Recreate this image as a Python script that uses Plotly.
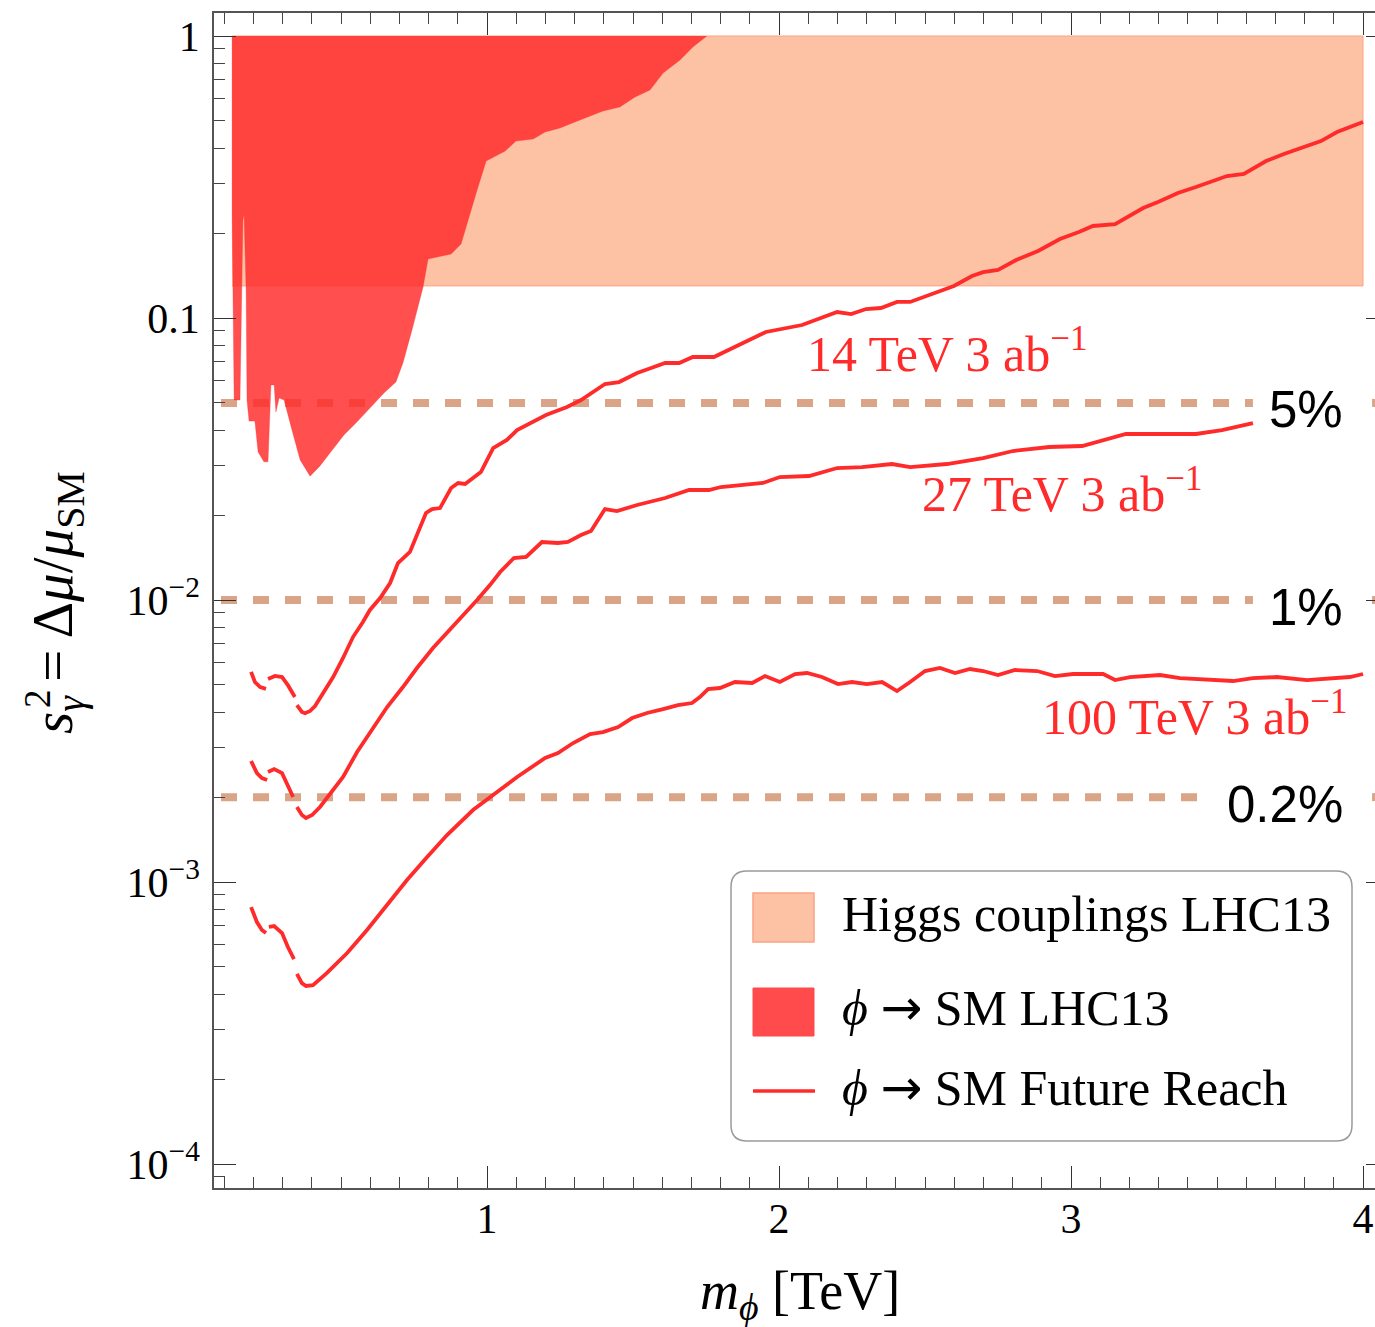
import math
import plotly.graph_objects as go

# ---------------- data ----------------
# Higgs couplings LHC13 excluded band
higgs_x = [0.127, 4.0, 4.0, 0.127]
higgs_y = [0.13, 0.13, 1.0, 1.0]

# phi -> SM LHC13 exclusion region (boundary, closed along s^2 = 1)
lhc13_x = [0.127, 0.127, 0.134, 0.154, 0.164, 0.168, 0.175, 0.178, 0.185, 0.205,
           0.216, 0.236, 0.25, 0.26, 0.271, 0.277, 0.288, 0.305, 0.332, 0.36,
           0.394, 0.428, 0.462, 0.479, 0.51, 0.551, 0.599, 0.647, 0.688, 0.712,
           0.743, 0.781, 0.798, 0.877, 0.911, 0.925, 0.949, 0.966, 0.997, 1.062,
           1.099, 1.158, 1.199, 1.25, 1.301, 1.397, 1.455, 1.507, 1.558, 1.603,
           1.661, 1.705, 1.753]
lhc13_y = [1.0, 0.232, 0.0512, 0.0512, 0.2226, 0.2338, 0.1257, 0.0512, 0.0431, 0.0431,
           0.0335, 0.0309, 0.0309, 0.0579, 0.0579, 0.0464, 0.052, 0.0512, 0.0401, 0.0314,
           0.0275, 0.0299, 0.0332, 0.0349, 0.0385, 0.0424, 0.048, 0.0542, 0.0593, 0.0692,
           0.0907, 0.1288, 0.162, 0.1686, 0.183, 0.205, 0.2516, 0.2843, 0.3602, 0.391,
           0.424, 0.431, 0.4566, 0.472, 0.4955, 0.542, 0.56, 0.608, 0.643, 0.739,
           0.822, 0.914, 1.0]

# Future reach curves (None = gap in the curve)
reach14_x = [0.192, 0.205, 0.223, 0.243, None,
             0.25, 0.274, 0.298, 0.318, 0.342, None,
             0.349, 0.366, 0.377, 0.394, 0.411, 0.438, 0.473, 0.507, 0.541, 0.575,
             0.599, 0.634, 0.668, 0.695, 0.736, 0.791, 0.812, 0.839, 0.877, 0.901,
             0.925, 0.979, 1.021, 1.068, 1.103, 1.202, 1.274, 1.322, 1.38, 1.404,
             1.452, 1.514, 1.562, 1.61, 1.658, 1.705, 1.777, 1.86, 1.955, 2.079,
             2.199, 2.247, 2.298, 2.349, 2.404, 2.449, 2.486, 2.545, 2.599, 2.661,
             2.699, 2.75, 2.812, 2.887, 2.962, 3.027, 3.075, 3.151, 3.247, 3.298,
             3.366, 3.428, 3.534, 3.592, 3.668, 3.729, 3.791, 3.856, 3.911, 4.0]
reach14_y = [0.00556, 0.00512, 0.00491, 0.00484, None,
             0.00525, 0.00538, 0.00533, 0.00499, 0.00453, None,
             0.00424, 0.00401, 0.00397, 0.00404, 0.00421, 0.00468, 0.00533, 0.00623, 0.00739, 0.00836,
             0.00922, 0.01016, 0.01149, 0.01353, 0.0148, 0.02035, 0.02102, 0.02119, 0.02496, 0.026,
             0.02579, 0.02844, 0.03459, 0.03694, 0.04006, 0.04529, 0.04834, 0.05119, 0.05598, 0.05833,
             0.05929, 0.06383, 0.06649, 0.06926, 0.06926, 0.07274, 0.07274, 0.0802, 0.08921, 0.09445,
             0.105, 0.1033, 0.1076, 0.1085, 0.114, 0.114, 0.1177, 0.1247, 0.1299, 0.1409,
             0.1455, 0.148, 0.1606, 0.1728, 0.1906, 0.2018, 0.212, 0.2154, 0.2455, 0.2578,
             0.2774, 0.2914, 0.3188, 0.3241, 0.3602, 0.3815, 0.4006, 0.4242, 0.4566, 0.4955]

reach27_x = [0.192, 0.212, 0.229, 0.247, None,
             0.25, 0.271, 0.298, 0.318, 0.336, None,
             0.349, 0.366, 0.38, 0.401, 0.428, 0.473, 0.507, 0.555, 0.599, 0.658,
             0.712, 0.76, 0.815, 0.863, 0.908, 0.966, 1.01, 1.045, 1.092, 1.134,
             1.188, 1.243, 1.277, 1.322, 1.356, 1.404, 1.445, 1.514, 1.61, 1.692,
             1.76, 1.801, 1.945, 2.003, 2.103, 2.199, 2.284, 2.387, 2.449, 2.575,
             2.699, 2.801, 2.925, 3.038, 3.188, 3.428, 3.517, 3.623]
reach27_y = [0.002686, 0.002434, 0.002337, 0.002299, None,
             0.002455, 0.002516, 0.002434, 0.002208, 0.002002, None,
             0.001845, 0.001728, 0.001687, 0.001728, 0.001845, 0.00212, 0.002357, 0.002891, 0.003402, 0.004174,
             0.004914, 0.00574, 0.006759, 0.007636, 0.008633, 0.01, 0.0113, 0.01257, 0.01409, 0.01421,
             0.01606, 0.01593, 0.01606, 0.017, 0.01757, 0.02102, 0.02068, 0.02172, 0.023, 0.02455,
             0.02455, 0.02516, 0.026, 0.0273, 0.02753, 0.02938, 0.02962, 0.03036, 0.02962, 0.03036,
             0.03188, 0.03376, 0.03488, 0.03517, 0.03879, 0.03879, 0.04006, 0.04242]

reach100_x = [0.192, 0.212, 0.229, 0.243, None,
              0.253, 0.271, 0.298, 0.318, 0.339, None,
              0.349, 0.366, 0.38, 0.404, 0.452, 0.521, 0.589, 0.658, 0.726, 0.795,
              0.863, 0.952, 1.021, 1.103, 1.199, 1.243, 1.295, 1.353, 1.397, 1.449,
              1.497, 1.548, 1.603, 1.654, 1.702, 1.729, 1.757, 1.798, 1.849, 1.908,
              1.952, 2.003, 2.055, 2.096, 2.147, 2.202, 2.25, 2.301, 2.353, 2.404,
              2.449, 2.5, 2.551, 2.603, 2.654, 2.699, 2.75, 2.808, 2.884, 2.945,
              3.007, 3.11, 3.151, 3.202, 3.305, 3.373, 3.555, 3.623, 3.705, 3.808,
              3.955, 4.0]
reach100_y = [0.000815, 0.000721, 0.000676, 0.000659, None,
              0.000693, 0.000698, 0.000659, 0.000588, 0.000533, None,
              0.000472, 0.000438, 0.000428, 0.000431, 0.000476, 0.00056, 0.000676, 0.000829, 0.001016, 0.001227,
              0.001468, 0.0018, 0.002035, 0.002357, 0.002753, 0.002867, 0.003111, 0.003347, 0.003402, 0.003545,
              0.003815, 0.003975, 0.004106, 0.004242, 0.004312, 0.004529, 0.004835, 0.004875, 0.00512, 0.005078,
              0.005376, 0.00512, 0.005465, 0.00551, 0.005333, 0.005036, 0.00512, 0.005036, 0.00512, 0.004756,
              0.00512, 0.0056, 0.00574, 0.00551, 0.005693, 0.0056, 0.00542, 0.005646, 0.0056, 0.005376,
              0.005465, 0.005465, 0.005202, 0.005333, 0.00542, 0.005289, 0.005162, 0.005289, 0.005333, 0.005202,
              0.005333, 0.005465]

# horizontal reference levels
percent_levels = [0.05, 0.01, 0.002]
percent_labels = ["5%", "1%", "0.2%"]
percent_line_end = [3.623, 3.623, 3.432]   # where the dashes stop before the label
percent_line_start = 0.089
percent_line_resume = 4.031

# curve labels
curve_labels = ["14 TeV 3 ab<sup>\u22121</sup>", "27 TeV 3 ab<sup>\u22121</sup>", "100 TeV 3 ab<sup>\u22121</sup>"]
curve_label_x = [2.089, 2.483, 2.894]
curve_label_y = [0.0751, 0.0238, 0.00385]

# axes
x_range = [0.065, 4.041]
y_range_log = [-4.085, 0.0816]
x_major = [1, 2, 3, 4]
x_minor = [round(0.1 * k, 1) for k in range(1, 41) if k % 10 != 0]
y_major = [1e-4, 1e-3, 1e-2, 0.1, 1.0]
y_major_text = ["10<sup>\u22124</sup>", "10<sup>\u22123</sup>", "10<sup>\u22122</sup>", "0.1", "1"]
y_minor = [m * 10.0 ** e for e in range(-5, 0) for m in range(2, 10)
           if 10 ** y_range_log[0] <= m * 10.0 ** e <= 10 ** y_range_log[1]]

ARROW = "<span style='font-family:DejaVu Sans'>\u2192</span>"
legend_labels = ["Higgs couplings LHC13",
                 "<i>\u03d5</i> " + ARROW + " SM LHC13",
                 "<i>\u03d5</i> " + ARROW + " SM Future Reach"]

# ---------------- styling ----------------
SERIF = "Liberation Serif, Times New Roman, DejaVu Serif, serif"
SANS = "Liberation Sans, Arial, DejaVu Sans, sans-serif"
ORANGE = "#FDC1A4"
ORANGE_EDGE = "#FBA384"
RED_FILL = "rgba(255,40,40,0.82)"
RED_LINE = "#FF2B2B"
TAN = "#D9A487"
AXIS = "#555555"

W, H = 1375, 1327
ML, MR, MT, MB = 214, 0, 13, 139
PW, PH = W - ML - MR, H - MT - MB


def pxx(p):
    return (p - ML) / PW


def pxy(p):
    return (H - MB - p) / PH


fig = go.Figure()

fig.add_trace(go.Scatter(x=higgs_x, y=higgs_y, fill="toself", fillcolor=ORANGE,
                         line=dict(color=ORANGE_EDGE, width=1), mode="lines",
                         hoverinfo="skip", showlegend=False))

for lvl, xe in zip(percent_levels, percent_line_end):
    fig.add_trace(go.Scatter(x=[percent_line_start, xe, None, percent_line_resume, x_range[1]],
                             y=[lvl, lvl, None, lvl, lvl], mode="lines",
                             line=dict(color=TAN, width=8, dash="16px,16px"),
                             hoverinfo="skip", showlegend=False))

fig.add_trace(go.Scatter(x=lhc13_x, y=lhc13_y, fill="toself", fillcolor=RED_FILL,
                         line=dict(color="rgba(255,40,40,0.6)", width=0.5), mode="lines",
                         hoverinfo="skip", showlegend=False))

for cx, cy in [(reach14_x, reach14_y), (reach27_x, reach27_y), (reach100_x, reach100_y)]:
    fig.add_trace(go.Scatter(x=cx, y=cy, mode="lines", connectgaps=False,
                             line=dict(color=RED_LINE, width=3.8),
                             hoverinfo="skip", showlegend=False))

# helper traces to activate the top and right tick axes
fig.add_trace(go.Scatter(x=[None], y=[None], xaxis="x2", yaxis="y", showlegend=False, hoverinfo="skip"))
fig.add_trace(go.Scatter(x=[None], y=[None], xaxis="x", yaxis="y2", showlegend=False, hoverinfo="skip"))

tickfont = dict(family=SERIF, size=42, color="black")

fig.update_layout(
    width=W, height=H, autosize=False,
    margin=dict(l=ML, r=MR, t=MT, b=MB, pad=0),
    paper_bgcolor="white", plot_bgcolor="white",
    showlegend=False,
    xaxis=dict(range=x_range, showgrid=False, zeroline=False,
               showline=True, linecolor=AXIS, linewidth=1.5, mirror=False,
               ticks="inside", tickmode="array", tickvals=x_major,
               ticktext=[str(v) for v in x_major], ticklen=22, tickwidth=1.3,
               tickcolor="#333", tickfont=tickfont, ticklabelstandoff=-7,
               minor=dict(ticks="inside", tickmode="array", tickvals=x_minor,
                          ticklen=11, tickwidth=1.1, tickcolor="#444", showgrid=False)),
    xaxis2=dict(range=x_range, overlaying="x", side="top", showgrid=False, zeroline=False,
                showline=True, linecolor=AXIS, linewidth=1.5,
                ticks="inside", tickmode="array", tickvals=x_major, ticklen=22,
                tickwidth=1.3, tickcolor="#333", showticklabels=False,
                minor=dict(ticks="inside", tickmode="array", tickvals=x_minor,
                           ticklen=11, tickwidth=1.1, tickcolor="#444", showgrid=False)),
    yaxis=dict(type="log", range=y_range_log, showgrid=False, zeroline=False,
               showline=True, linecolor=AXIS, linewidth=1.5, mirror=False,
               ticks="inside", tickmode="array", tickvals=y_major, ticktext=y_major_text,
               ticklen=22, tickwidth=1.3, tickcolor="#333", tickfont=tickfont,
               ticklabelstandoff=4,
               minor=dict(ticks="inside", tickmode="array", tickvals=y_minor,
                          ticklen=11, tickwidth=1.1, tickcolor="#444", showgrid=False)),
    yaxis2=dict(type="log", range=y_range_log, overlaying="y", side="right",
                showgrid=False, zeroline=False, showline=False,
                ticks="inside", tickmode="array", tickvals=y_major, ticklen=9,
                tickwidth=1.3, tickcolor="#333", showticklabels=False),
)

annotations = []
# percent labels (log axis: annotation y in log10 units)
for lvl, lab in zip(percent_levels, percent_labels):
    annotations.append(dict(x=3.938, y=math.log10(lvl), xref="x", yref="y", yshift=-7, text=lab,
                            showarrow=False, xanchor="right", yanchor="middle",
                            font=dict(family=SANS, size=51, color="black")))
# curve labels
for lab, cx, cy in zip(curve_labels, curve_label_x, curve_label_y):
    annotations.append(dict(x=cx, y=math.log10(cy), xref="x", yref="y", text=lab, showarrow=False,
                            xanchor="left", yanchor="middle", yshift=3,
                            font=dict(family=SERIF, size=50, color=RED_LINE)))
# axis titles
annotations.append(dict(x=pxx(800), y=pxy(1294), xref="paper", yref="paper",
                        text="<i>m</i><sub><i>\u03d5</i></sub> [TeV]", showarrow=False,
                        xanchor="center", yanchor="middle",
                        font=dict(family=SERIF, size=54, color="black")))
annotations.append(dict(x=pxx(57), y=pxy(603), xref="paper", yref="paper",
                        text="<i>s</i><sub><i>\u03b3</i></sub> = \u0394<i>\u03bc</i>/<i>\u03bc</i><sub>SM</sub>",
                        showarrow=False, textangle=-90, xanchor="center", yanchor="middle",
                        font=dict(family=SERIF, size=57, color="black")))
annotations.append(dict(x=pxx(37), y=pxy(699), xref="paper", yref="paper",
                        text="2", showarrow=False, textangle=-90, xanchor="center", yanchor="middle",
                        font=dict(family=SERIF, size=37, color="black")))
# legend texts
for lab, ly in zip(legend_labels, [914, 1008, 1088]):
    annotations.append(dict(x=pxx(840), y=pxy(ly), xref="paper", yref="paper", text=lab,
                            showarrow=False, xanchor="left", yanchor="middle",
                            font=dict(family=SERIF, size=50, color="black")))
fig.update_layout(annotations=annotations)

# legend box (rounded) and swatches
x0, x1, y0, y1 = pxx(731), pxx(1352), pxy(1141), pxy(871)
rx, ry = 16 / PW, 16 / PH
path = (f"M {x0+rx},{y0} L {x1-rx},{y0} Q {x1},{y0} {x1},{y0+ry} "
        f"L {x1},{y1-ry} Q {x1},{y1} {x1-rx},{y1} L {x0+rx},{y1} Q {x0},{y1} {x0},{y1-ry} "
        f"L {x0},{y0+ry} Q {x0},{y0} {x0+rx},{y0} Z")
shapes = [
    dict(type="path", path=path, xref="paper", yref="paper",
         line=dict(color="#9a9a9a", width=1.5), fillcolor="white", layer="above"),
    dict(type="rect", xref="paper", yref="paper", x0=pxx(753), x1=pxx(814), y0=pxy(942), y1=pxy(893),
         fillcolor=ORANGE, line=dict(color=ORANGE_EDGE, width=1.5), layer="above"),
    dict(type="rect", xref="paper", yref="paper", x0=pxx(753), x1=pxx(814), y0=pxy(1036), y1=pxy(988),
         fillcolor="#FF4B4B", line=dict(color="#FF4B4B", width=1), layer="above"),
    dict(type="line", xref="paper", yref="paper", x0=pxx(753), x1=pxx(815), y0=pxy(1091), y1=pxy(1091),
         line=dict(color=RED_LINE, width=3.5), layer="above"),
]
fig.update_layout(shapes=shapes)

fig.write_html("out.html", config={"displayModeBar": False},
               post_script="document.body.style.margin='0px';")
